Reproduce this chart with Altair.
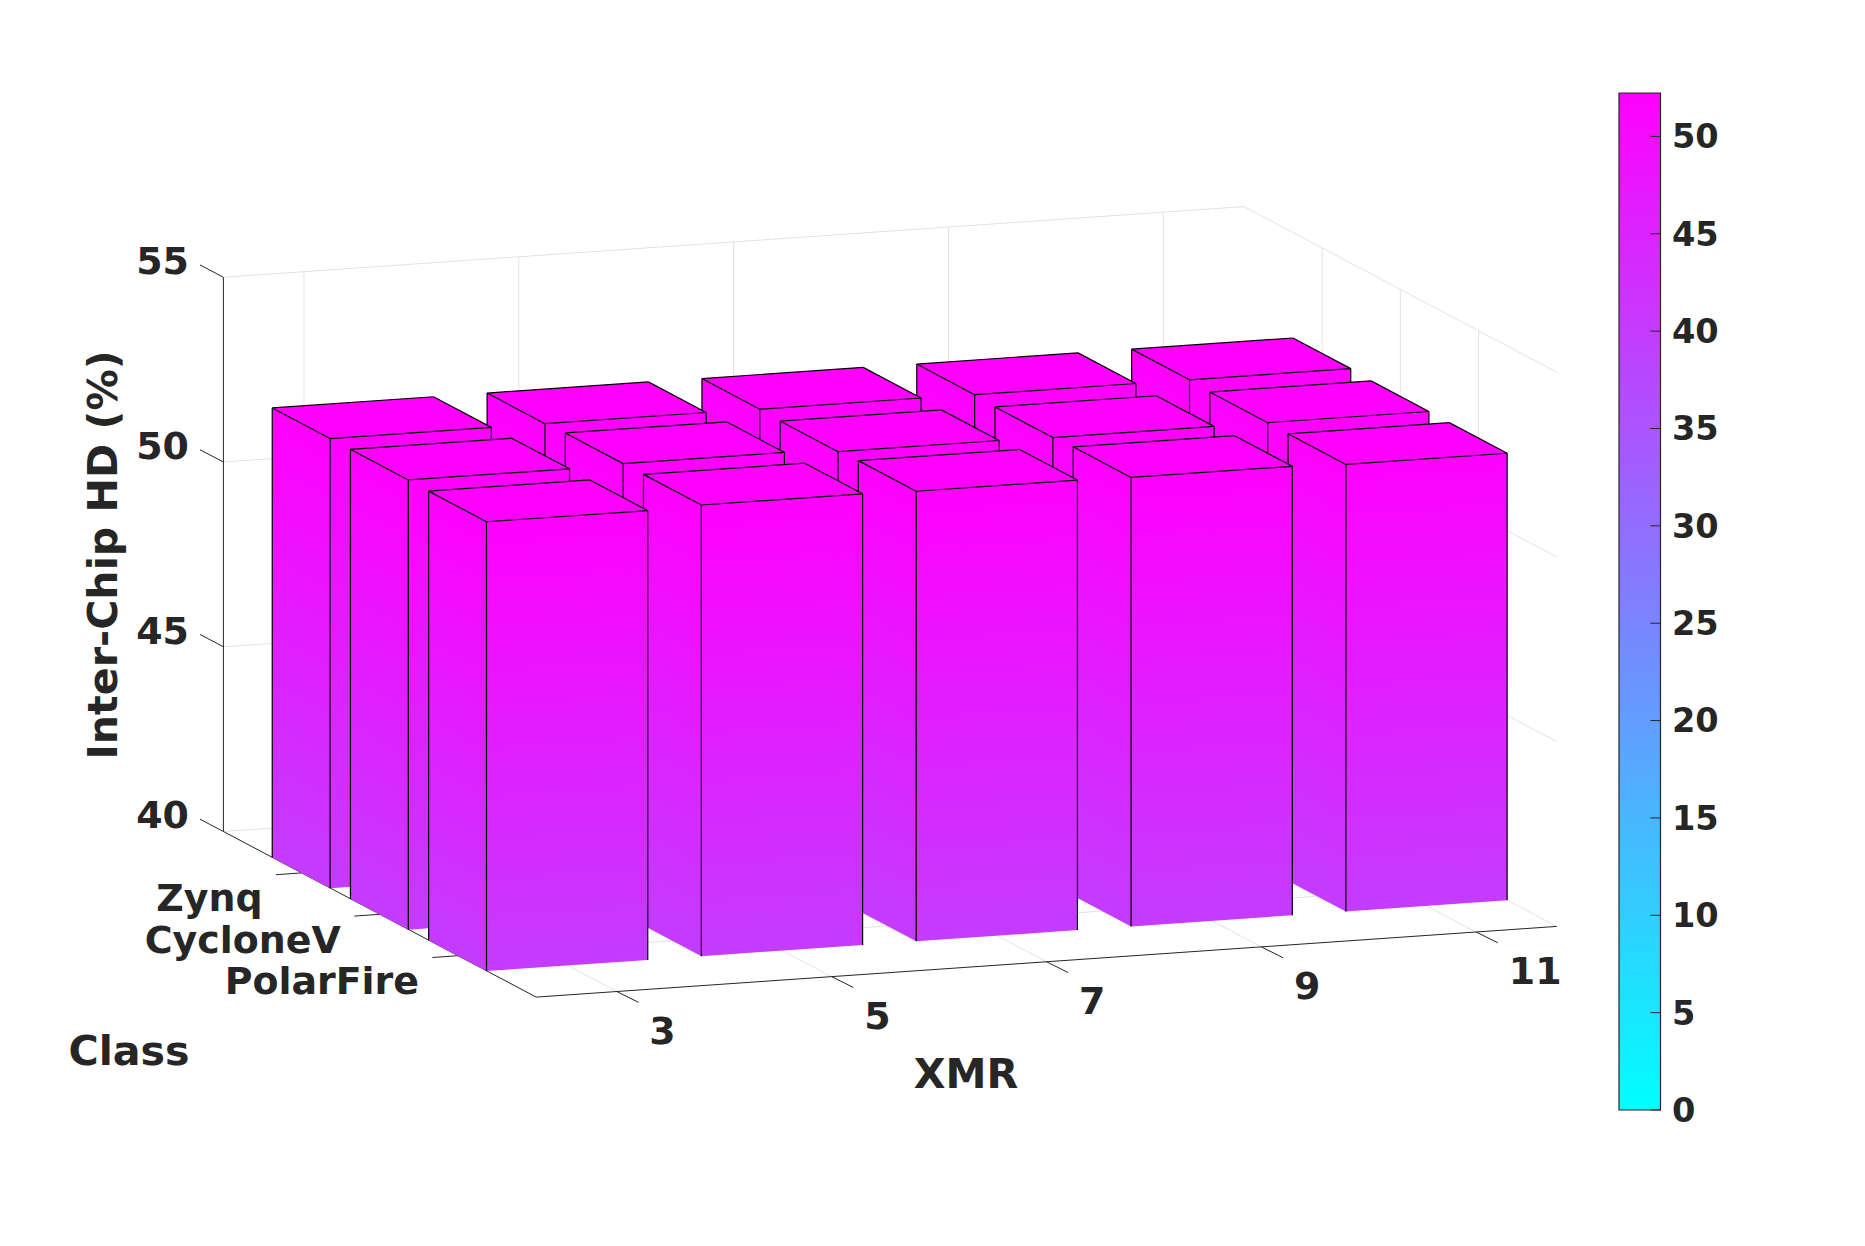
import altair as alt
import pandas as pd

# ---- values
XMR = [3, 5, 7, 9, 11]
CLASSES = ["Zynq", "CycloneV", "PolarFire"]
HD_ZYNQ = [52.17, 52.17, 52.16, 52.15, 52.15]
HD_CYCLONE = [52.17, 52.21, 52.13, 52.11, 52.11]
HD_POLAR = [52.16, 52.21, 52.18, 52.15, 52.10]
Z_TICKS = [40, 45, 50, 55]
CBAR_TICKS = list(range(0, 55, 5))
CBAR_MAX = 52.23

# ---- the view: a fixed orthographic projection of the 3-D axes to the page
W, H = 1609.5, 1230
ORIGIN = (223.4, 831.5)       # x low, class 0, z 40
X_STEP = (214.85, -14.88)
C_STEP = (78.2, 41.4)
Z_STEP = 36.95
XLIM = (0.625, 5.375)
CLIM = (0.0, 4.0)
ZBASE = 40.0
DARK = "#262626"
GRID = "#e2e2e2"


def P(x, c, z):
    return (ORIGIN[0] + (x - XLIM[0]) * X_STEP[0] + c * C_STEP[0],
            ORIGIN[1] + (x - XLIM[0]) * X_STEP[1] + c * C_STEP[1] - (z - ZBASE) * Z_STEP)


def cool(v):
    t = max(0.0, min(1.0, v / CBAR_MAX))
    return "#%02x%02xff" % (round(255 * t), round(255 * (1 - t)))


sx = alt.Scale(domain=[8, 8 + W], range=[0, W], nice=False, zero=False)
sy = alt.Scale(domain=[8 + H, 8], range=[H, 0], nice=False, zero=False)
EX = alt.X("x:Q", scale=sx, axis=None)
EY = alt.Y("y:Q", scale=sy, axis=None)


def segs(pairs):
    return pd.DataFrame([dict(x=a[0], y=a[1], x2=b[0], y2=b[1]) for a, b in pairs])


def rules(pairs, color, width=1.0):
    return alt.Chart(segs(pairs)).mark_rule(color=color, strokeWidth=width).encode(
        x=EX, y=EY, x2="x2:Q", y2="y2:Q")


def face(x0, c0, x1, c1, z):
    """Vertical face, colour following z across its parallelogram."""
    a, b = P(x0, c0, z), P(x1, c1, z)
    a0, b0 = P(x0, c0, ZBASE), P(x1, c1, ZBASE)
    df = pd.DataFrame([dict(x=a[0], y=a[1], y2=a0[1]), dict(x=b[0], y=b[1], y2=b0[1])])
    h = a0[1] - a[1]
    ymin = min(a[1], b[1])
    bh = h + abs(b[1] - a[1])
    ga = -(b[1] - a[1]) / h
    gb = bh / h
    gc = (ymin - a[1]) / h
    n = ga * ga + gb * gb
    p1 = (-gc * ga / n, -gc * gb / n)
    p2 = (p1[0] + ga / n, p1[1] + gb / n)
    grad = dict(gradient="linear", x1=p1[0], y1=p1[1], x2=p2[0], y2=p2[1],
                stops=[dict(offset=0, color=cool(z)), dict(offset=1, color=cool(ZBASE))])
    return alt.Chart(df).mark_area(color=grad).encode(x=EX, y=EY, y2="y2:Q")


def top_face(x0, x1, c0, c1, z):
    L, Bk, R, F = P(x0, c0, z), P(x1, c0, z), P(x1, c1, z), P(x0, c1, z)

    def interp(p, q, xv):
        return p[1] + (q[1] - p[1]) * (xv - p[0]) / (q[0] - p[0])

    rows = [dict(x=L[0], y=L[1], y2=L[1]),
            dict(x=F[0], y=interp(L, Bk, F[0]), y2=F[1]),
            dict(x=Bk[0], y=Bk[1], y2=interp(F, R, Bk[0])),
            dict(x=R[0], y=R[1], y2=R[1])]
    return alt.Chart(pd.DataFrame(rows)).mark_area(color=cool(z)).encode(x=EX, y=EY, y2="y2:Q")


layers = []

# ---- grid on the floor and on the two walls
grid = []
xmin, xmax = XLIM
cmin, cmax = CLIM
for z in Z_TICKS:
    grid.append((P(xmin, cmin, z), P(xmax, cmin, z)))
    grid.append((P(xmax, cmin, z), P(xmax, cmax, z)))
for i in range(1, len(XMR) + 1):
    grid.append((P(i, cmin, ZBASE), P(i, cmin, Z_TICKS[-1])))
    grid.append((P(i, cmin, ZBASE), P(i, cmax, ZBASE)))
for c in range(1, len(CLASSES) + 1):
    grid.append((P(xmax, c, ZBASE), P(xmax, c, Z_TICKS[-1])))
    grid.append((P(xmin, c, ZBASE), P(xmax, c, ZBASE)))
layers.append(rules(grid, GRID))

# ---- axis lines and ticks
axis = [(P(xmin, cmin, ZBASE), P(xmin, cmin, Z_TICKS[-1])),
        (P(xmin, cmin, ZBASE), P(xmin, cmax, ZBASE)),
        (P(xmin, cmax, ZBASE), P(xmax, cmax, ZBASE))]
for z in Z_TICKS:
    a = P(xmin, cmin, z)
    axis.append((a, (a[0] - 23.4, a[1] - 12.3)))
for i in range(1, len(XMR) + 1):
    a = P(i, cmax, ZBASE)
    axis.append((a, (a[0] + 21.7, a[1] + 10.8)))
for c in range(1, len(CLASSES) + 1):
    a = P(xmin, c, ZBASE)
    axis.append((a, (a[0] - 25.6, a[1] + 1.8)))
layers.append(rules(axis, DARK))

# ---- bars, painted from the far row to the near one
LOW_X, HIGH_X = 0.377, 0.3735
HALF_C = 0.37
for c, row in zip(range(1, 4), [HD_ZYNQ, HD_CYCLONE, HD_POLAR]):
    for i in range(5, 0, -1):
        z = row[i - 1]
        x0, x1 = i - LOW_X, i + HIGH_X
        c0, c1 = c - HALF_C, c + HALF_C
        layers.append(face(x0, c0, x0, c1, z))
        layers.append(face(x0, c1, x1, c1, z))
        layers.append(top_face(x0, x1, c0, c1, z))
        edges = [(P(x0, c0, ZBASE), P(x0, c0, z)),
                 (P(x0, c1, ZBASE), P(x0, c1, z)),
                 (P(x1, c1, ZBASE), P(x1, c1, z)),
                 (P(x0, c0, z), P(x1, c0, z)),
                 (P(x1, c0, z), P(x1, c1, z)),
                 (P(x1, c1, z), P(x0, c1, z)),
                 (P(x0, c1, z), P(x0, c0, z))]
        layers.append(rules(edges, "#000000", 1.2))


def label(rows, size, align, baseline="middle", angle=0):
    return alt.Chart(pd.DataFrame(rows)).mark_text(
        font="DejaVu Sans", fontWeight="bold", fontSize=size, color=DARK,
        align=align, baseline=baseline, angle=angle).encode(x=EX, y=EY, text="t:N")


TICK_SIZE = 37.9
TITLE_SIZE = 41.2
rows = []
for z in Z_TICKS:
    a = P(xmin, cmin, z)
    rows.append(dict(x=a[0] - 34.5, y=a[1] - 14.2, t=str(z)))
layers.append(label(rows, TICK_SIZE, "right"))
rows = []
for i, v in enumerate(XMR, start=1):
    a = P(i, cmax, ZBASE)
    rows.append(dict(x=a[0] + 32.6, y=a[1] + 41.2, t=str(v)))
layers.append(label(rows, TICK_SIZE, "left"))
rows = []
for c, name in enumerate(CLASSES, start=1):
    a = P(xmin, c, ZBASE)
    rows.append(dict(x=a[0] - 39, y=a[1] + 38.5, t=name))
layers.append(label(rows, TICK_SIZE, "right", "alphabetic"))
layers.append(label([dict(x=129, y=1064.5, t="Class")], TITLE_SIZE, "center", "alphabetic"))
layers.append(label([dict(x=966, y=1076, t="XMR")], TITLE_SIZE, "center"))
layers.append(label([dict(x=104.7, y=555, t="Inter-Chip HD (%)")], TITLE_SIZE, "center", "middle", 270))

main = alt.layer(*layers).properties(width=W, height=H)

# ---- colour bar
cb_y = alt.Scale(domain=[0, CBAR_MAX], range=[1102, 85], nice=False, zero=False)
cb_x = alt.Scale(domain=[0, 1], range=[0, 41.5], nice=False, zero=False)
cb_axis = alt.Axis(
    orient="right", values=CBAR_TICKS, title=None, domain=False, ticks=False, grid=False,
    labelFont="DejaVu Sans", labelFontWeight="bold", labelFontSize=33.6, labelColor=DARK,
    labelPadding=11, labelOffset=1.4, labelFlush=False, labelOverlap=False, labelBaseline="middle")
bar_df = pd.DataFrame({"x": [0.0], "x2": [1.0], "v": [CBAR_MAX], "v2": [0.0]})
bar = alt.Chart(bar_df).mark_rect(
    color=dict(gradient="linear", x1=0, y1=1, x2=0, y2=0,
               stops=[dict(offset=0, color=cool(0)), dict(offset=1, color=cool(CBAR_MAX))]),
    stroke=DARK, strokeWidth=1.2,
).encode(
    x=alt.X("x:Q", scale=cb_x, axis=None),
    x2="x2:Q",
    y=alt.Y("v:Q", scale=cb_y, axis=cb_axis),
    y2="v2:Q",
)
tick_df = pd.DataFrame({"x": [0.755] * len(CBAR_TICKS), "x2": [1.0] * len(CBAR_TICKS), "v": CBAR_TICKS})
ticks = alt.Chart(tick_df).mark_rule(color=DARK, strokeWidth=1).encode(
    x=alt.X("x:Q", scale=cb_x, axis=None), x2="x2:Q", y=alt.Y("v:Q", scale=cb_y, axis=cb_axis))
colorbar = alt.layer(bar, ticks).properties(width=41.5, height=H)

chart = alt.hconcat(main, colorbar, spacing=0).properties(
    padding=0, background="#ffffff"
).configure_view(stroke=None)

chart.save("out.html", embed_options={"renderer": "svg", "actions": False})
